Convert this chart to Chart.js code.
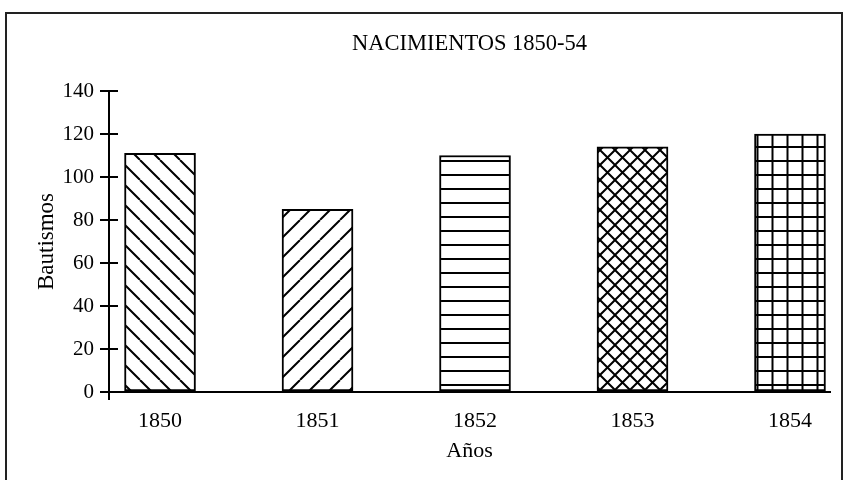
<!DOCTYPE html>
<html>
<head>
<meta charset="utf-8">
<script src="https://cdn.jsdelivr.net/npm/chart.js@4"></script>
<style>
    body { margin: 0; background: #fff; overflow: hidden; }
    #wrap { position: relative; width: 844px; height: 480px; }
    #frame { position: absolute; left: 5px; top: 12px; width: 834px; height: 500px; border: 2px solid #222; }
    canvas { position: absolute; left: 0; top: 0; }
</style>
</head>
<body>
<div id="wrap">
    <div id="frame"></div>
    <canvas id="chart" width="844" height="480"></canvas>
</div>
<script>
const years = [1850, 1851, 1852, 1853, 1854];
const bautismos = [111, 85, 110, 114, 120];
const yTicks = [0, 20, 40, 60, 80, 100, 120, 140];
const hatchKinds = ['back', 'fwd', 'horiz', 'cross', 'grid'];
const chartTitle = 'NACIMIENTOS 1850-54';
const xTitle = 'Años';
const yTitle = 'Bautismos';

const SERIF = "'Liberation Serif', 'DejaVu Serif', serif";

// small tiles used as bar fills (line hatching like the printed original)
function hatch(kind) {
    const w = (kind === 'back' || kind === 'fwd') ? 20 : (kind === 'cross' || kind === 'grid') ? 15 : 14;
    const h = (kind === 'back' || kind === 'fwd') ? 20 : kind === 'cross' ? 15 : 14;
    const c = document.createElement('canvas');
    c.width = w; c.height = h;
    const g = c.getContext('2d');
    g.fillStyle = '#fff';
    g.fillRect(0, 0, w, h);
    g.strokeStyle = '#000';
    g.lineWidth = 2;
    g.beginPath();
    if (kind === 'back' || kind === 'cross') {
        for (const k of [-w, 0, w]) { g.moveTo(k, 0); g.lineTo(k + w, h); }
    }
    if (kind === 'fwd' || kind === 'cross') {
        for (const k of [-w, 0, w]) { g.moveTo(k, h); g.lineTo(k + w, 0); }
    }
    if (kind === 'horiz' || kind === 'grid') { g.moveTo(0, h / 2); g.lineTo(w, h / 2); }
    if (kind === 'grid') { g.moveTo(w / 2, 0); g.lineTo(w / 2, h); }
    g.stroke();
    return g.createPattern(c, 'repeat');
}

// tick marks in the original cross the y axis, and the axis runs a bit below 0
const axisMarks = {
    id: 'axisMarks',
    afterDraw(chart) {
        const { ctx, scales: { y } } = chart;
        ctx.save();
        ctx.strokeStyle = '#000';
        ctx.lineWidth = 2;
        ctx.beginPath();
        y.ticks.forEach(t => {
            const py = y.getPixelForValue(t.value);
            ctx.moveTo(y.right, py);
            ctx.lineTo(y.right + 9, py);
        });
        ctx.moveTo(y.right, y.bottom);
        ctx.lineTo(y.right, y.bottom + 8);
        ctx.stroke();
        ctx.restore();
    }
};

new Chart(document.getElementById('chart').getContext('2d'), {
    type: 'bar',
    data: {
        datasets: [{
            data: years.map((yr, i) => ({ x: yr, y: bautismos[i] })),
            backgroundColor: hatchKinds.map(hatch),
            borderColor: '#000',
            borderWidth: 2,
            borderSkipped: false,
            barThickness: 71
        }]
    },
    options: {
        responsive: false,
        animation: false,
        layout: { padding: { left: 0, right: 14, top: 0, bottom: 0 } },
        plugins: {
            legend: { display: false },
            tooltip: { enabled: false },
            title: {
                display: true,
                text: chartTitle,
                fullSize: false,
                color: '#000',
                font: { family: SERIF, size: 22.5, weight: 'normal' },
                padding: { top: 31, bottom: 33 }
            }
        },
        scales: {
            x: {
                type: 'linear',
                offset: false,
                min: 1849.676,
                max: 1854.254,
                afterBuildTicks: s => { s.ticks = years.map(v => ({ value: v })); },
                afterFit: s => { s.height = 88; },
                ticks: {
                    color: '#000',
                    font: { family: SERIF, size: 22 },
                    padding: 16,
                    maxRotation: 0,
                    autoSkip: false,
                    callback: v => String(v)
                },
                grid: { display: false, drawTicks: false, offset: false },
                border: { color: '#000', width: 2 },
                title: {
                    display: true,
                    text: xTitle,
                    color: '#000',
                    font: { family: SERIF, size: 22 },
                    padding: { top: 0, bottom: 16 }
                }
            },
            y: {
                min: 0,
                max: 140,
                afterBuildTicks: s => { s.ticks = yTicks.map(v => ({ value: v })); },
                afterFit: s => { s.width = 109; },
                ticks: {
                    color: '#000',
                    font: { family: SERIF, size: 21 },
                    padding: 6
                },
                grid: { drawOnChartArea: false, tickLength: 9, color: '#000', lineWidth: 2 },
                border: { color: '#000', width: 2 },
                title: {
                    display: true,
                    text: yTitle,
                    color: '#000',
                    font: { family: SERIF, size: 23 },
                    padding: { top: 33, bottom: 0 }
                }
            }
        }
    },
    plugins: [axisMarks]
});
</script>
</body>
</html>
